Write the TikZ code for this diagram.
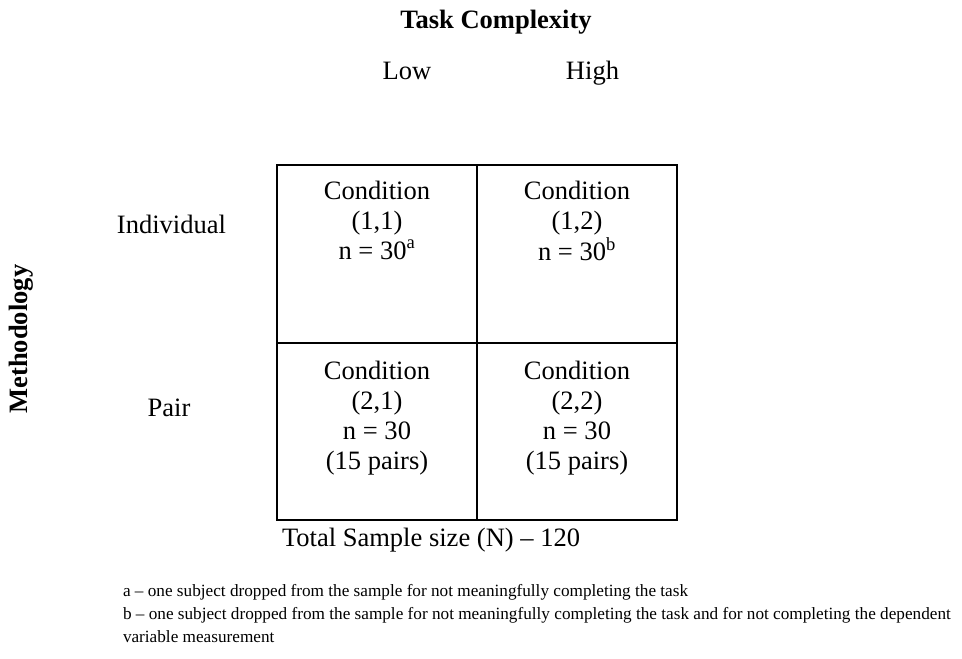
\documentclass[tikz,border=0pt]{standalone}
\usepackage{fontspec}
\setmainfont{Liberation Serif}
\begin{document}
\begin{tikzpicture}[x=0.75pt,y=-0.75pt,
  every node/.style={inner sep=0pt,outer sep=0pt},
  bigtext/.style={font=\fontsize{19.9}{22.5}\selectfont},
  smalltext/.style={font=\fontsize{12.9}{17}\selectfont,anchor=base west},
  grid/.style={line width=1.5pt},
  cell/.style={bigtext,anchor=base}]
\useasboundingbox (0,0) rectangle (962,658);

% axis headings
\node[bigtext,font=\fontsize{19.9}{22.5}\selectfont\bfseries,anchor=base] (tc) at (496,28) {Task Complexity};
\node[bigtext,anchor=base] (low) at (407,79) {Low};
\node[bigtext,anchor=base] (high) at (592.5,79) {High};
\node[bigtext,font=\fontsize{19.9}{22.5}\selectfont\bfseries,anchor=base,rotate=90] (meth) at (27,339) {Methodology};
\node[bigtext,anchor=base] (ind) at (171.5,233) {Individual};
\node[bigtext,anchor=base] (pair) at (169,416) {Pair};

% 2x2 grid of conditions
\draw[grid] (277,165) rectangle (677,520);
\draw[grid] (477,165) -- (477,520);
\draw[grid] (277,343) -- (677,343);

\node[cell] (c11) at (377,199) {\begin{tabular}[t]{@{}c@{}}Condition\\(1,1)\\n = 30\textsuperscript{a}\end{tabular}};
\node[cell] (c12) at (577,199) {\begin{tabular}[t]{@{}c@{}}Condition\\(1,2)\\n = 30\textsuperscript{b}\end{tabular}};
\node[cell] (c21) at (377,379) {\begin{tabular}[t]{@{}c@{}}Condition\\(2,1)\\n = 30\\(15 pairs)\end{tabular}};
\node[cell] (c22) at (577,379) {\begin{tabular}[t]{@{}c@{}}Condition\\(2,2)\\n = 30\\(15 pairs)\end{tabular}};

\node[bigtext,anchor=base west] (total) at (282,546) {Total Sample size (N) – 120};

% footnotes
\node[smalltext] (fa) at (123,596) {a – one subject dropped from the sample for not meaningfully completing the task};
\node[smalltext] (fb) at (123,619) {b – one subject dropped from the sample for not meaningfully completing the task and for not completing the dependent};
\node[smalltext] (fc) at (123,642) {variable measurement};
\end{tikzpicture}
\end{document}
